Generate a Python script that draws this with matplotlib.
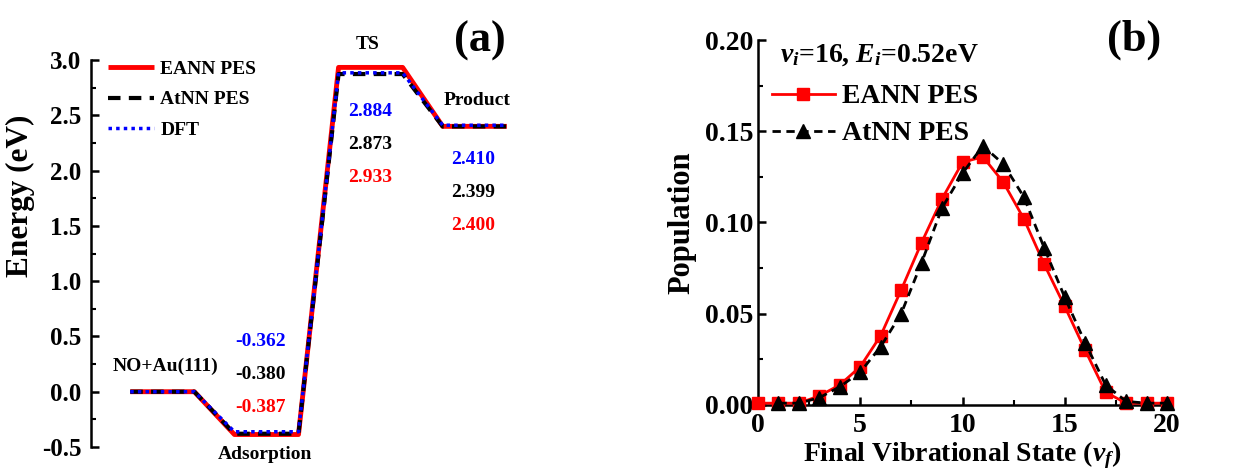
import numpy as np
import matplotlib
matplotlib.use("Agg")
import matplotlib.pyplot as plt
from matplotlib.ticker import MultipleLocator, FormatStrFormatter

plt.rcParams['font.family'] = ['Liberation Serif', 'DejaVu Serif']
plt.rcParams['font.weight'] = 'bold'
plt.rcParams['axes.unicode_minus'] = False
plt.rcParams['mathtext.fontset'] = 'custom'
plt.rcParams['mathtext.rm'] = 'Liberation Serif:bold'
plt.rcParams['mathtext.it'] = 'Liberation Serif:italic:bold'
plt.rcParams['mathtext.bf'] = 'Liberation Serif:bold'

# panel (a): energy profile
states = ["NO+Au(111)", "Adsorption", "TS", "Product"]
eann_energy = [0.0, -0.387, 2.933, 2.400]
atnn_energy = [0.0, -0.380, 2.873, 2.399]
dft_energy = [0.0, -0.362, 2.884, 2.410]

# panel (b): final vibrational state distribution
eann_vf = list(range(0, 21))
eann_pop = [0.001, 0.001, 0.001, 0.005, 0.011, 0.021, 0.038, 0.063, 0.089, 0.113, 0.133,
            0.136, 0.122, 0.102, 0.077, 0.054, 0.030, 0.007, 0.001, 0.001, 0.001]
atnn_vf = list(range(1, 21))
atnn_pop = [0.001, 0.001, 0.004, 0.010, 0.018, 0.032, 0.050, 0.078, 0.108, 0.127,
            0.142, 0.132, 0.114, 0.086, 0.059, 0.034, 0.011, 0.002, 0.001, 0.001]

FLAT = 1.6
STEP = 2.6


def profile(energies):
    xs, ys = [], []
    for i, e in enumerate(energies):
        xs += [i * STEP, i * STEP + FLAT]
        ys += [e, e]
    return xs, ys


fig = plt.figure(figsize=(12.4, 4.75), dpi=100)
ax1 = fig.add_axes([91 / 1240, 1 - 447 / 475, 560 / 1240, 387 / 475])
ax2 = fig.add_axes([758 / 1240, 1 - 405 / 475, 409 / 1240, 365 / 475])

x, y = profile(eann_energy)
ax1.plot(x, y, color="red", lw=3.5, label="EANN PES", solid_capstyle="butt")
x, y = profile(atnn_energy)
ax1.plot(x, y, color="black", lw=3, ls=(0, (3, 2)), label="AtNN PES")
x, y = profile(dft_energy)
ax1.plot(x, y, color="blue", lw=2.5, ls=(0, (1, 1.2)), label="DFT")

ax1.set_xlim(-0.98, 13.0)
ax1.set_ylim(-0.5, 3.0)
for s in ["top", "right", "bottom"]:
    ax1.spines[s].set_visible(False)
ax1.spines["left"].set_linewidth(1.8)
ax1.set_xticks([])
ax1.yaxis.set_major_locator(MultipleLocator(0.5))
ax1.yaxis.set_minor_locator(MultipleLocator(0.25))
ax1.tick_params(axis="y", which="major", direction="in", length=6, width=1.8, labelsize=18, pad=7)
ax1.tick_params(axis="y", which="minor", direction="in", length=3.5, width=1.5)
ax1.set_ylabel("Energy (eV)", fontsize=22.5, fontweight="bold")
ax1.yaxis.set_label_coords(-0.1, 0.649)

fs = 14
ax1.text(0.87, 0.23, states[0], ha="center", va="center", fontsize=fs)
ax1.text(3.37, -0.57, states[1], ha="center", va="center", fontsize=fs)
ax1.text(5.93, 3.14, states[2], ha="center", va="center", fontsize=fs)
ax1.text(8.67, 2.63, states[3], ha="center", va="center", fontsize=fs)

num_pos = {1: (3.25, 0.45), 2: (6.0, 2.53), 3: (8.57, 2.10)}
gap = 0.297
for i, (xp, ytop) in num_pos.items():
    for j, (vals, c) in enumerate([(dft_energy, "blue"), (atnn_energy, "black"), (eann_energy, "red")]):
        ax1.text(xp, ytop - j * gap, f"{vals[i]:.3f}", color=c, ha="center", va="center", fontsize=fs)

ax1.legend(loc="upper left", bbox_to_anchor=(0.03, 1.0), frameon=False, fontsize=14,
           borderaxespad=0, borderpad=0, handlelength=2.4, handletextpad=0.3, labelspacing=0.68)
ax1.text(0.695, 1.05, "(a)", transform=ax1.transAxes, fontsize=32, ha="center", va="center")

# panel (b)
ax2.plot(eann_vf, eann_pop, color="red", lw=2, marker="s", ms=9, label="EANN PES", clip_on=False, zorder=3)
ax2.plot(atnn_vf, atnn_pop, color="black", lw=2, ls=(0, (3, 2)), marker="^", ms=10,
         label="AtNN PES", clip_on=False, zorder=4)
ax2.set_xlim(0, 20)
ax2.set_ylim(0, 0.20)
for s in ["top", "right"]:
    ax2.spines[s].set_visible(False)
for s in ["left", "bottom"]:
    ax2.spines[s].set_linewidth(1.8)
ax2.xaxis.set_major_locator(MultipleLocator(5))
ax2.xaxis.set_minor_locator(MultipleLocator(2.5))
ax2.yaxis.set_major_locator(MultipleLocator(0.05))
ax2.yaxis.set_minor_locator(MultipleLocator(0.025))
ax2.yaxis.set_major_formatter(FormatStrFormatter("%.2f"))
ax2.tick_params(which="major", direction="in", length=6, width=1.8, labelsize=20)
ax2.tick_params(axis="x", which="major", pad=6)
ax2.tick_params(which="minor", direction="in", length=3.5, width=1.5)
ax2.set_ylabel("Population", fontsize=22, fontweight="bold", labelpad=6)
ax2.set_xlabel("Final Vibrational State ($v_f$)", fontsize=20, fontweight="bold", labelpad=1)
ax2.text(0.054, 0.959, "$v_i$=16, $E_i$=0.52eV", transform=ax2.transAxes, fontsize=20,
         ha="left", va="center")
ax2.legend(loc="upper left", bbox_to_anchor=(0.034, 0.88), frameon=False, fontsize=20,
           borderaxespad=0, borderpad=0, handlelength=2.27, handletextpad=0.25, labelspacing=0.42)
ax2.text(0.92, 1.0, "(b)", transform=ax2.transAxes, fontsize=32, ha="center", va="center")

fig.savefig("out.png", dpi=100)
